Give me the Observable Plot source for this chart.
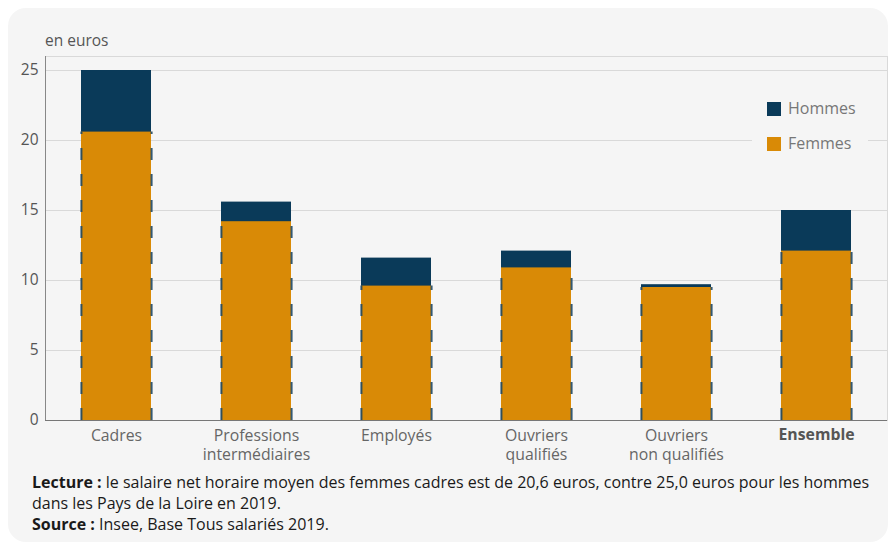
<!DOCTYPE html>
<html><head><meta charset="utf-8">
<script src="https://cdn.jsdelivr.net/npm/d3@7"></script>
<script src="https://cdn.jsdelivr.net/npm/@observablehq/plot@0.6"></script>
<style>
body{margin:0;background:#fff;font-family:"Open Sans",sans-serif;width:890px;height:546px;overflow:hidden;}
#card{position:absolute;left:8px;top:8px;width:880px;height:534px;background:#f5f5f5;border-radius:18px;}
#chart{position:absolute;left:0;top:0;}
#unit{position:absolute;left:45px;top:29px;font-size:15.5px;color:#555;}
#legend{position:absolute;left:752px;top:92px;width:116px;height:66px;background:#f5f5f5;}
.item{position:absolute;left:15px;height:20px;font-size:16px;color:#777;line-height:20px;}
.sw{position:absolute;left:0;top:3px;width:14px;height:14px;}
.item span.t{position:absolute;left:21px;top:-1px;white-space:nowrap;}
#foot{position:absolute;left:32px;top:472px;width:848px;font-size:16px;line-height:21px;color:#1a1a1a;}
</style></head>
<body>
<div id="card"></div>
<div id="chart"></div>
<div id="unit">en euros</div>
<div id="legend"></div>
<div id="foot"><b>Lecture :</b> le salaire net horaire moyen des femmes cadres est de 20,6 euros, contre 25,0 euros pour les hommes dans les Pays de la Loire en 2019.<br><b>Source :</b> Insee, Base Tous salariés 2019.</div>
<script>
const categories = ["Cadres","Professions intermédiaires","Employés","Ouvriers qualifiés","Ouvriers non qualifiés","Ensemble"];
const tickLabels = ["Cadres","Professions\nintermédiaires","Employés","Ouvriers\nqualifiés","Ouvriers\nnon qualifiés","Ensemble"];
const hommes = [25.0,15.6,11.6,12.1,9.7,15.0];
const femmes = [20.6,14.2,9.6,10.9,9.5,12.1];
const yTicks = [0,5,10,15,20,25];
const seriesNames = ["Hommes","Femmes"];
const colors = ["#0a3a59","#d98a06"];

const data = categories.map((c,i)=>({cat:c, label:tickLabels[i], h:hommes[i], f:femmes[i]}));
const W = 890, H = 470, ML = 45, MR = 3, MT = 56, MB = 50;
const pInner = 0.5, pOuter = 0.25;
const step = (W-ML-MR)/(categories.length - pInner + 2*pOuter);
const bw = step*(1-pInner);
const lab = new Map(categories.map((c,i)=>[c,tickLabels[i]]));

const chart = Plot.plot({
  width: W, height: H,
  marginLeft: ML, marginRight: MR, marginTop: MT, marginBottom: MB,
  style: {background:"transparent", fontFamily:"'Open Sans', sans-serif"},
  x: {domain: categories, paddingInner: pInner, paddingOuter: pOuter, align: 0.5},
  y: {domain: [0,26]},
  marks: [
    Plot.gridY(yTicks.filter(d=>d>0), {stroke:"#d9d9d9", strokeOpacity:1}),
    Plot.frame({stroke:"#d9d9d9"}),
    Plot.barY(data, {x:"cat", y:"h", fill:colors[0]}),
    Plot.barY(data, {x:"cat", y:"f", fill:colors[1]}),
    Plot.ruleX(data, {x:"cat", y1:0, y2:"f", dx:-bw/2, stroke:"#1f4865", strokeWidth:2, strokeOpacity:0.9, strokeDasharray:"12,14"}),
    Plot.ruleX(data, {x:"cat", y1:0, y2:"f", dx:bw/2, stroke:"#1f4865", strokeWidth:2, strokeOpacity:0.9, strokeDasharray:"12,14"}),
    Plot.frame({anchor:"left", stroke:"#888"}),
    Plot.ruleY([0], {stroke:"#777"}),
    Plot.axisY({ticks: yTicks, tickSize:0, tickPadding:7, fontSize:15.5, fill:"#555", label:null}),
    Plot.axisX({ticks: categories.slice(0,5), tickSize:0, tickPadding:8, fontSize:15.8, fill:"#666", lineHeight:1.15, label:null, tickFormat:d=>lab.get(d)}),
    Plot.axisX({ticks: categories.slice(5), tickSize:0, tickPadding:8, fontSize:15.8, fill:"#555", fontWeight:"bold", label:null, tickFormat:d=>lab.get(d)})
  ]
});
document.getElementById("chart").appendChild(chart);

const leg = document.getElementById("legend");
seriesNames.forEach((n,i)=>{
  const it = document.createElement("div");
  it.className="item"; it.style.top = (7+35*i)+"px";
  it.innerHTML = `<span class="sw" style="background:${colors[i]}"></span><span class="t">${n}</span>`;
  leg.appendChild(it);
});
</script>
</body></html>
